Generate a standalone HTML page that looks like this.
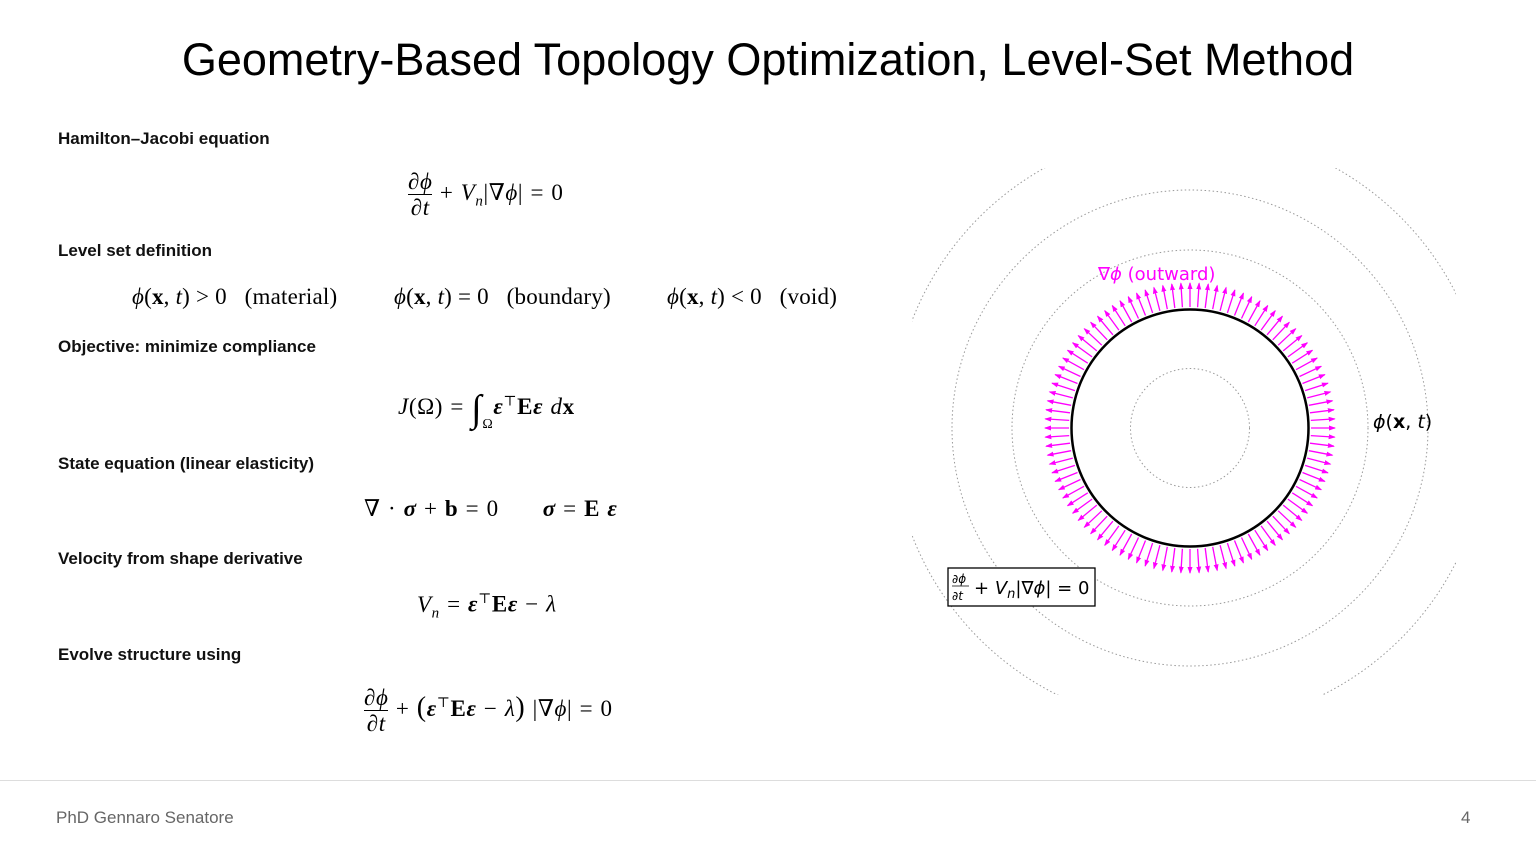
<!DOCTYPE html>
<html><head><meta charset="utf-8"><style>
body{margin:0;width:1536px;height:864px;background:#fff;position:relative;overflow:hidden;font-family:"Liberation Sans",sans-serif;color:#000}
.a{position:absolute;white-space:nowrap}
.h{font-size:17px;font-weight:600;color:#111}
.m{font-family:"Liberation Serif","DejaVu Serif",serif;font-size:23px;letter-spacing:0.6px;word-spacing:1px}
i{font-style:italic}
.fr{display:inline-block;vertical-align:middle;text-align:center}
.fr span{display:block;line-height:25px}
.fr .n{border-bottom:1px solid #000}
</style></head><body>
<div class="a" style="left:0;width:1536px;top:34px;text-align:center;font-size:45px">Geometry-Based Topology Optimization, Level-Set Method</div>

<div class="a h" style="left:58px;top:129px">Hamilton–Jacobi equation</div>
<div class="a m" style="left:408px;top:169px"><span class="fr"><span class="n">∂<i>ϕ</i></span><span>∂<i>t</i></span></span> + <i>V<sub style="font-size:15px">n</sub></i>|∇<i>ϕ</i>| = 0</div>

<div class="a h" style="left:58px;top:241px">Level set definition</div>
<div class="a m" style="left:132px;top:284px;letter-spacing:0.2px;word-spacing:0"><i>ϕ</i>(<b>x</b>, <i>t</i>) &gt; 0 &nbsp;&nbsp;(material)</div>
<div class="a m" style="left:394px;top:284px;letter-spacing:0.2px;word-spacing:0"><i>ϕ</i>(<b>x</b>, <i>t</i>) = 0 &nbsp;&nbsp;(boundary)</div>
<div class="a m" style="left:667px;top:284px;letter-spacing:0.2px;word-spacing:0"><i>ϕ</i>(<b>x</b>, <i>t</i>) &lt; 0 &nbsp;&nbsp;(void)</div>

<div class="a h" style="left:58px;top:337px">Objective: minimize compliance</div>
<div class="a m" style="left:398px;top:387px"><i>J</i>(Ω) = <span style="font-size:38px;vertical-align:-7px"><i>∫</i></span><sub style="font-size:14px;vertical-align:-14px">Ω</sub><b><i>ε</i></b><sup style="font-size:14px">⊤</sup><b>E</b><b><i>ε</i></b> <i>d</i><b>x</b></div>

<div class="a h" style="left:58px;top:454px">State equation (linear elasticity)</div>
<div class="a m" style="left:364px;top:496px">∇ · <b><i>σ</i></b> + <b>b</b> = 0 &nbsp;&nbsp;&nbsp;&nbsp;&nbsp;<b><i>σ</i></b> = <b>E</b> <b><i>ε</i></b></div>

<div class="a h" style="left:58px;top:549px">Velocity from shape derivative</div>
<div class="a m" style="left:417px;top:591px"><i>V<sub style="font-size:15px">n</sub></i> = <b><i>ε</i></b><sup style="font-size:14px">⊤</sup><b>E</b><b><i>ε</i></b> − <i>λ</i></div>

<div class="a h" style="left:58px;top:645px">Evolve structure using</div>
<div class="a m" style="left:364px;top:685px"><span class="fr"><span class="n">∂<i>ϕ</i></span><span>∂<i>t</i></span></span> + <span style="font-size:28px">(</span><b><i>ε</i></b><sup style="font-size:14px">⊤</sup><b>E</b><b><i>ε</i></b> − <i>λ</i><span style="font-size:28px">)</span> |∇<i>ϕ</i>| = 0</div>

<svg class="a" style="left:0;top:0" width="1536" height="864">
<defs><clipPath id="c"><rect x="912" y="168" width="544" height="527"/></clipPath>
<marker id="ar" markerWidth="7" markerHeight="6" refX="6" refY="3" orient="auto" markerUnits="userSpaceOnUse"><path d="M0,0.5 L7,3 L0,5.5z" fill="#ff00ff"/></marker></defs>
<g fill="none" stroke="#999" stroke-width="1" stroke-dasharray="1.5 2.5" clip-path="url(#c)">
<circle cx="1190" cy="428" r="59.5"/><circle cx="1190" cy="428" r="178"/><circle cx="1190" cy="428" r="238"/><circle cx="1190" cy="428" r="298"/>
</g>
<g id="arrows" stroke="#ff00ff" stroke-width="1.3"></g>
<circle cx="1190" cy="428" r="118.5" fill="none" stroke="#000" stroke-width="2.5"/>
<text x="1098" y="280" fill="#ff00ff" font-family="DejaVu Sans" font-size="18">∇<tspan font-style="italic">ϕ</tspan> (outward)</text>
<text x="1373" y="428" fill="#000" font-family="DejaVu Sans" font-size="19"><tspan font-style="italic">ϕ</tspan>(<tspan font-weight="bold">x</tspan>, <tspan font-style="italic">t</tspan>)</text>
<rect x="948" y="568" width="147" height="38" fill="#fff" stroke="#000" stroke-width="1.3"/>
<g font-family="DejaVu Sans" fill="#000">
<text x="952" y="583" font-size="12">∂<tspan font-style="italic">ϕ</tspan></text>
<line x1="952" y1="586" x2="969" y2="586" stroke="#000" stroke-width="0.8"/>
<text x="952" y="600" font-size="12">∂<tspan font-style="italic">t</tspan></text>
<text x="974" y="594" font-size="18">+ <tspan font-style="italic">V</tspan><tspan font-style="italic" font-size="13" dy="4">n</tspan><tspan dy="-4">|∇</tspan><tspan font-style="italic">ϕ</tspan>| = 0</text>
</g>
</svg>
<script>
var g=document.getElementById('arrows'),s='';
var N=100;
for(var k=0;k<N;k++){var t=k*Math.PI*2/N;var c=Math.cos(t),n=Math.sin(t);
s+='<line x1="'+(1190+121*c).toFixed(1)+'" y1="'+(428+121*n).toFixed(1)+'" x2="'+(1190+145*c).toFixed(1)+'" y2="'+(428+145*n).toFixed(1)+'" marker-end="url(#ar)"/>';}
g.innerHTML=s;
</script>
<div class="a" style="left:0;top:780px;width:1536px;border-top:1px solid #ddd"></div>
<div class="a" style="left:56px;top:808px;font-size:17px;color:#666">PhD Gennaro Senatore</div>
<div class="a" style="left:1461px;top:808px;font-size:17px;color:#666">4</div>
</body></html>
